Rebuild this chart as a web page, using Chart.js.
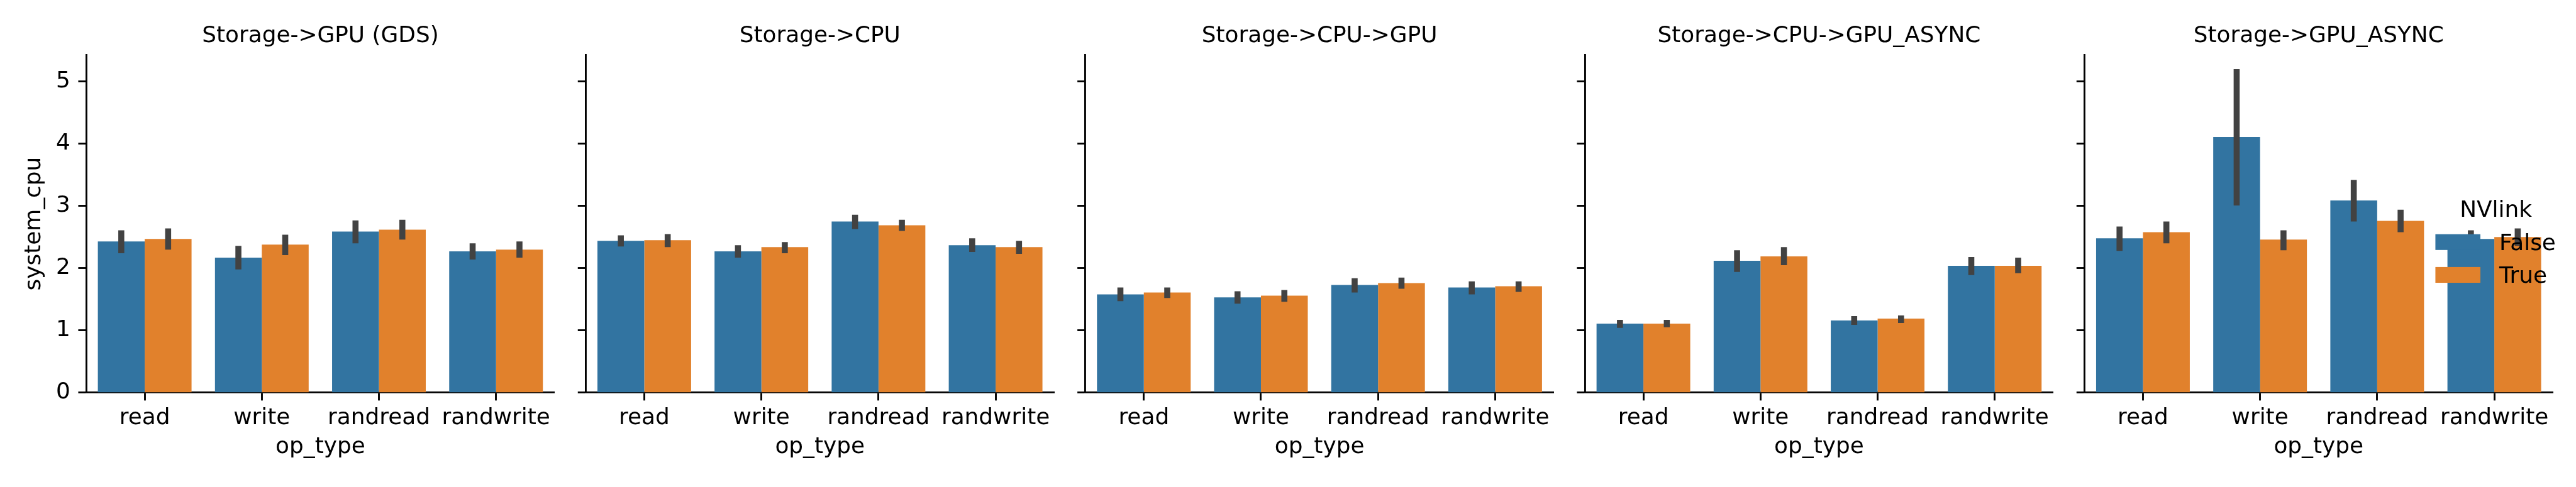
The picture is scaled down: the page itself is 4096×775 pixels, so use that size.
<!DOCTYPE html>
<html>
<head>
<meta charset="utf-8">
<script src="https://cdn.jsdelivr.net/npm/chart.js@4.4.0/dist/chart.umd.min.js"></script>
<style>
  html, body { margin: 0; padding: 0; background: #fff; width: 4096px; height: 775px; overflow: hidden; }
  canvas { position: absolute; top: 0; }
</style>
</head>
<body>
<script>
// --- Data ---
const opTypes = ["read", "write", "randread", "randwrite"];
const panelTitles = ["Storage->GPU (GDS)", "Storage->CPU", "Storage->CPU->GPU", "Storage->CPU->GPU_ASYNC", "Storage->GPU_ASYNC"];
const hueLabels = ["False", "True"];
const yTickValues = [0, 1, 2, 3, 4, 5];

// mean system_cpu, NVlink False / True
const gdsFalse = [2.43, 2.17, 2.59, 2.27];
const gdsTrue = [2.47, 2.38, 2.62, 2.30];
const cpuFalse = [2.44, 2.27, 2.75, 2.37];
const cpuTrue = [2.45, 2.34, 2.69, 2.34];
const cpuGpuFalse = [1.58, 1.53, 1.73, 1.69];
const cpuGpuTrue = [1.61, 1.56, 1.76, 1.71];
const cpuGpuAsyncFalse = [1.11, 2.12, 1.16, 2.04];
const cpuGpuAsyncTrue = [1.11, 2.19, 1.19, 2.04];
const gpuAsyncFalse = [2.48, 4.11, 3.09, 2.47];
const gpuAsyncTrue = [2.58, 2.46, 2.76, 2.50];

// confidence intervals [low, high]
const gdsFalseCI = [[2.24, 2.61], [1.98, 2.36], [2.40, 2.77], [2.14, 2.40]];
const gdsTrueCI = [[2.30, 2.64], [2.21, 2.54], [2.46, 2.78], [2.17, 2.43]];
const cpuFalseCI = [[2.35, 2.53], [2.17, 2.37], [2.63, 2.86], [2.26, 2.48]];
const cpuTrueCI = [[2.34, 2.55], [2.24, 2.42], [2.60, 2.78], [2.23, 2.44]];
const cpuGpuFalseCI = [[1.47, 1.69], [1.43, 1.63], [1.61, 1.84], [1.58, 1.79]];
const cpuGpuTrueCI = [[1.52, 1.69], [1.46, 1.65], [1.67, 1.85], [1.62, 1.79]];
const cpuGpuAsyncFalseCI = [[1.04, 1.17], [1.94, 2.29], [1.09, 1.23], [1.89, 2.18]];
const cpuGpuAsyncTrueCI = [[1.05, 1.17], [2.05, 2.34], [1.12, 1.24], [1.92, 2.17]];
const gpuAsyncFalseCI = [[2.28, 2.67], [3.01, 5.20], [2.75, 3.42], [2.34, 2.61]];
const gpuAsyncTrueCI = [[2.40, 2.75], [2.29, 2.61], [2.58, 2.94], [2.36, 2.64]];

const panels = [
  { f: gdsFalse, t: gdsTrue, fCI: gdsFalseCI, tCI: gdsTrueCI },
  { f: cpuFalse, t: cpuTrue, fCI: cpuFalseCI, tCI: cpuTrueCI },
  { f: cpuGpuFalse, t: cpuGpuTrue, fCI: cpuGpuFalseCI, tCI: cpuGpuTrueCI },
  { f: cpuGpuAsyncFalse, t: cpuGpuAsyncTrue, fCI: cpuGpuAsyncFalseCI, tCI: cpuGpuAsyncTrueCI },
  { f: gpuAsyncFalse, t: gpuAsyncTrue, fCI: gpuAsyncFalseCI, tCI: gpuAsyncTrueCI }
];

// --- Layout (reference pixels, scaled by S) ---
const S = 4096 / 7924;
const W = 4096, H = 775;
const AX_LEFT = 265, AX_STEP = 1536.7, AX_W = 1441, AX_TOP = 169, AX_BOTTOM = 1208.7;
const FONT = 69.4 * S;
const LW = 5.56 * S;
const TICK = 24.3 * S;
const BLUE = "#3274a1", ORANGE = "#e1812c", ERR = "#424242";
const CANVAS_W = 918;

Chart.defaults.font.family = "'DejaVu Sans', sans-serif";
Chart.defaults.font.size = FONT;
Chart.defaults.color = "#000";

// --- Panel title above each facet ---
const panelTitlePlugin = {
  id: "panelTitle",
  afterDraw(chart, args, opts) {
    const { ctx, chartArea } = chart;
    ctx.save();
    ctx.font = FONT + "px 'DejaVu Sans'";
    ctx.fillStyle = "#000";
    ctx.textAlign = "center";
    ctx.textBaseline = "alphabetic";
    ctx.fillText(opts.text, (chartArea.left + chartArea.right) / 2, 130 * S);
    ctx.restore();
  }
};

// --- Hue legend (drawn over the last facet like seaborn does) ---
const hueLegendPlugin = {
  id: "hueLegend",
  afterDraw(chart) {
    const { ctx, chartArea } = chart;
    const x0 = chartArea.left;
    ctx.save();
    ctx.font = FONT + "px 'DejaVu Sans'";
    ctx.fillStyle = "#000";
    ctx.textBaseline = "alphabetic";
    ctx.textAlign = "center";
    ctx.fillText("NVlink", x0 + 1265.7 * S, 668 * S);
    const colors = [BLUE, ORANGE];
    const rowTop = [721, 822];
    const baseline = [770, 871];
    hueLabels.forEach((lab, k) => {
      ctx.fillStyle = colors[k];
      ctx.fillRect(x0 + 1079.7 * S, rowTop[k] * S, 138.3 * S, 48.6 * S);
      ctx.fillStyle = "#000";
      ctx.textAlign = "left";
      ctx.fillText(lab, x0 + 1276 * S, baseline[k] * S);
    });
    ctx.restore();
  }
};

function axisGrid() {
  return {
    offset: false,
    drawOnChartArea: false,
    drawTicks: true,
    tickLength: TICK,
    tickWidth: LW,
    tickColor: "#000"
  };
}

panels.forEach((p, i) => {
  const absLeft = (AX_LEFT + i * AX_STEP) * S;
  const canvasLeft = Math.floor(i * AX_STEP * S);
  const yAxisW = absLeft - canvasLeft;
  const areaW = AX_W * S;

  const canvas = document.createElement("canvas");
  canvas.width = CANVAS_W;
  canvas.height = H;
  canvas.style.left = canvasLeft + "px";
  canvas.style.width = CANVAS_W + "px";
  canvas.style.height = H + "px";
  document.body.appendChild(canvas);

  const errPct = 18.5 / (AX_W / 4 * 0.8 / 2);

  new Chart(canvas, {
    type: "bar",
    data: {
      labels: opTypes,
      datasets: [
        { label: hueLabels[0], data: p.f, backgroundColor: BLUE, stack: "F", order: 1, categoryPercentage: 0.8, barPercentage: 1 },
        { label: hueLabels[1], data: p.t, backgroundColor: ORANGE, stack: "T", order: 1, categoryPercentage: 0.8, barPercentage: 1 },
        { label: "ci False", data: p.fCI, backgroundColor: ERR, stack: "F", order: 0, categoryPercentage: 0.8, barPercentage: errPct },
        { label: "ci True", data: p.tCI, backgroundColor: ERR, stack: "T", order: 0, categoryPercentage: 0.8, barPercentage: errPct }
      ]
    },
    options: {
      responsive: false,
      animation: false,
      devicePixelRatio: 1,
      layout: { padding: { left: 0, top: AX_TOP * S, right: CANVAS_W - yAxisW - areaW, bottom: 0 } },
      plugins: {
        legend: { display: false },
        tooltip: { enabled: false },
        panelTitle: { text: panelTitles[i] }
      },
      scales: {
        x: {
          stacked: true,
          offset: true,
          grid: axisGrid(),
          border: { color: "#000", width: LW },
          ticks: { padding: 7, color: "#000", maxRotation: 0, autoSkip: false, font: { size: FONT } },
          title: { display: true, text: "op_type", color: "#000", font: { size: FONT }, padding: { top: 0, bottom: 41.5 } },
          afterFit: (sc) => { sc.height = H - AX_BOTTOM * S; }
        },
        y: {
          stacked: false,
          min: 0,
          max: 5.43,
          afterBuildTicks: (sc) => { sc.ticks = yTickValues.map(v => ({ value: v })); },
          ticks: {
            padding: TICK,
            color: "#000",
            font: { size: FONT },
            callback: (v) => (i === 0 ? String(v) : "")
          },
          grid: axisGrid(),
          border: { color: "#000", width: LW },
          title: { display: i === 0, text: "system_cpu", color: "#000", font: { size: FONT }, padding: { top: 33, bottom: 0 } },
          afterFit: (sc) => { sc.width = yAxisW; }
        }
      }
    },
    plugins: i === 4 ? [panelTitlePlugin, hueLegendPlugin] : [panelTitlePlugin]
  });
});
</script>
</body>
</html>
